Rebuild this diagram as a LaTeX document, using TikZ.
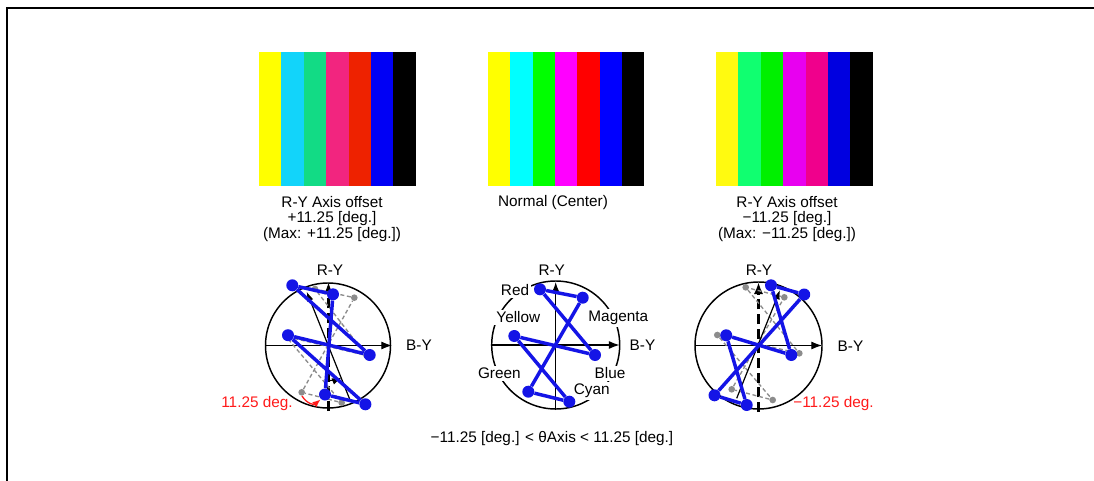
\documentclass[tikz,border=0pt]{standalone}
\usepackage{fontspec}
\setmainfont{Liberation Sans}
\usepackage{xcolor}
\usepackage{tikz}
\usetikzlibrary{arrows.meta}

\definecolor{lbarA}{HTML}{FFFF00}
\definecolor{lbarB}{HTML}{12D4FA}
\definecolor{lbarC}{HTML}{12DB85}
\definecolor{lbarD}{HTML}{F2257F}
\definecolor{lbarE}{HTML}{EE2200}
\definecolor{lbarF}{HTML}{0000F5}
\definecolor{mbarA}{HTML}{FFFF00}
\definecolor{mbarB}{HTML}{00FFFF}
\definecolor{mbarC}{HTML}{00FF00}
\definecolor{mbarD}{HTML}{FF00FF}
\definecolor{mbarE}{HTML}{FF0000}
\definecolor{mbarF}{HTML}{0000FF}
\definecolor{rbarA}{HTML}{FFFA10}
\definecolor{rbarB}{HTML}{10FF70}
\definecolor{rbarC}{HTML}{00F000}
\definecolor{rbarD}{HTML}{E800F0}
\definecolor{rbarE}{HTML}{F0008C}
\definecolor{rbarF}{HTML}{0000E0}
\definecolor{vecBlue}{HTML}{1414E6}
\definecolor{refGray}{HTML}{8C8C8C}
\definecolor{degRed}{HTML}{FF1A1A}

\begin{document}
\begin{tikzpicture}[x=0.75pt, y=-0.75pt,
  txt/.style={font=\fontsize{11.5}{11.5}\selectfont, inner sep=0pt, align=center},
  redtxt/.style={txt, text=degRed},
  cname/.style={txt, fill=white, inner sep=1.5pt},
  ring/.style={draw, line width=1.1pt},
  axis/.style={-{Latex[length=8pt, width=6pt]}, line width=0.9pt},
  ryaxis/.style={-{Latex[length=9pt, width=7pt]}, line width=2.2pt, dash pattern=on 7.5pt off 3.5pt},
  tilt/.style={-{Latex[length=7pt, width=5pt]}, line width=0.9pt},
  vec/.style={draw=vecBlue, line width=2.6pt},
  vdot/.style={circle, fill=vecBlue, inner sep=0pt, minimum size=9pt},
  ref/.style={draw=refGray, line width=1pt, dash pattern=on 3pt off 2pt},
  rdot/.style={circle, fill=refGray, inner sep=0pt, minimum size=5pt},
  redarr/.style={-{Latex[length=6pt, width=5pt]}, draw=degRed, line width=1pt}
]
  \fill[white] (0,0) rectangle (1094,481);
  \useasboundingbox (0,0) rectangle (1094,481);

  % Frame
  \draw[line width=1.5pt] (7,481) -- (7,8) -- (1094,8);

  % Colour bars
  \foreach \c [count=\i from 0] in {lbarA,lbarB,lbarC,lbarD,lbarE,lbarF,black}
    \fill[\c] (259+22.4*\i,52) rectangle +(22.7,134);
  \foreach \c [count=\i from 0] in {mbarA,mbarB,mbarC,mbarD,mbarE,mbarF,black}
    \fill[\c] (488+22.3*\i,52) rectangle +(22.6,134);
  \foreach \c [count=\i from 0] in {rbarA,rbarB,rbarC,rbarD,rbarE,rbarF,black}
    \fill[\c] (716+22.4*\i,52) rectangle +(22.7,134);

  % Captions
  \node[txt] (cap_l) at (332,219) {R-Y Axis offset\\+11.25 [deg.]\\(Max: +11.25 [deg.])};
  \node[txt] (cap_c) at (553,203) {Normal (Center)};
  \node[txt] (cap_r) at (787,219) {R-Y Axis offset\\−11.25 [deg.]\\(Max: −11.25 [deg.])};

  %% Left scope: +11.25
  \coordinate (lo) at (328,345.5);
  \draw[ring] (lo) circle[radius=62.5];
  \coordinate (l_w) at (265.5,345.5);
  \coordinate (l_e) at (392,345.5);
  \coordinate (l_s) at (328.5,411);
  \coordinate (l_n) at (328.5,282);
  \draw[axis] (l_w) -- (l_e);
  \draw[ryaxis] (l_s) -- (l_n);
  \node[txt] (l_ry) at (330,270.7) {R-Y};
  \node[txt] (l_by) at (419,345) {B-Y};

  % reference (normal) vectors
  \node[rdot] (lg_r) at (315,289) {};
  \node[rdot] (lg_m) at (354.3,297.7) {};
  \node[rdot] (lg_y) at (286,336.5) {};
  \node[rdot] (lg_b) at (366.5,355.5) {};
  \node[rdot] (lg_g) at (301.7,392.3) {};
  \node[rdot] (lg_c) at (341.7,402.7) {};
  \draw[ref] (lg_y) -- (lg_c) -- (lg_g) -- (lg_m) -- (lg_r) -- (lg_b) -- (lg_y);

  % rotated axis
  \coordinate (l_tb) at (350,400);
  \coordinate (l_tt) at (306.7,291.7);
  \draw[tilt] (l_tb) -- (l_tt);
  \draw[tilt] (lo) ++(90:35) arc[start angle=90, end angle=67.5, radius=35];

  % shifted vectors
  \node[vdot] (l_r) at (292.3,285.3) {};
  \node[vdot] (l_m) at (333,294.3) {};
  \node[vdot] (l_y) at (288,335.2) {};
  \node[vdot] (l_b) at (369.7,355) {};
  \node[vdot] (l_g) at (325,394.5) {};
  \node[vdot] (l_c) at (365.4,404.3) {};
  \draw[vec] (l_y) -- (l_c) -- (l_g) -- (l_m) -- (l_r) -- (l_b) -- (l_y);

  \coordinate (l_ga) at (302,396);
  \coordinate (l_gb) at (320.5,399.5);
  \draw[redarr] (l_ga) .. controls (307,404) and (314,405) .. (l_gb);
  \node[redtxt] (l_deg) at (257,404) {11.25 deg.};

  %% Centre scope: normal
  \coordinate (co) at (555.7,345);
  \draw[ring] (co) circle[radius=64];
  \node[cname] (c_nr) at (515,290) {Red};
  \node[cname] (c_ny) at (518.3,317.3) {Yellow};
  \node[cname] (c_nm) at (618.3,317.7) {Magenta};
  \node[cname] (c_ng) at (499.3,373.3) {Green};
  \node[cname] (c_nb) at (610,373.3) {Blue};
  \node[cname] (c_nc) at (591.7,391) {Cyan};
  \coordinate (c_w) at (491.7,345);
  \coordinate (c_e) at (619.5,345);
  \coordinate (c_s) at (555.7,410);
  \coordinate (c_n) at (555.7,282);
  \draw[axis] (c_w) -- (c_e);
  \draw[axis] (c_s) -- (c_n);
  \node[txt] (c_ry) at (551.7,270.7) {R-Y};
  \node[txt] (c_by) at (642.5,345) {B-Y};

  \node[vdot] (c_r) at (540,289.3) {};
  \node[vdot] (c_m) at (582.7,297.7) {};
  \node[vdot] (c_y) at (514.3,336) {};
  \node[vdot] (c_b) at (595,355) {};
  \node[vdot] (c_g) at (528.3,391.7) {};
  \node[vdot] (c_c) at (569.3,401.7) {};
  \draw[vec] (c_y) -- (c_c) -- (c_g) -- (c_m) -- (c_r) -- (c_b) -- (c_y);

  %% Right scope: -11.25
  \coordinate (ro) at (758.5,345.5);
  \draw[ring] (ro) circle[radius=63.5];
  \coordinate (r_w) at (695,345.5);
  \coordinate (r_e) at (822,345.5);
  \coordinate (r_s) at (758.5,412);
  \coordinate (r_n) at (758.5,282);
  \draw[axis] (r_w) -- (r_e);
  \draw[ryaxis] (r_s) -- (r_n);
  \node[txt] (r_ry) at (759,270) {R-Y};
  \node[txt] (r_by) at (850.5,346) {B-Y};

  % reference (normal) vectors
  \node[rdot] (rg_r) at (745.7,287.3) {};
  \node[rdot] (rg_m) at (784.3,297.3) {};
  \node[rdot] (rg_y) at (717.3,335) {};
  \node[rdot] (rg_b) at (799.3,353.3) {};
  \node[rdot] (rg_g) at (731.7,389.3) {};
  \node[rdot] (rg_c) at (772.7,400) {};
  \draw[ref] (rg_y) -- (rg_c) -- (rg_g) -- (rg_m) -- (rg_r) -- (rg_b) -- (rg_y);

  % rotated axis
  \coordinate (r_tb) at (736.7,398.3);
  \coordinate (r_tt) at (780,290);
  \draw[tilt] (r_tb) -- (r_tt);

  % shifted vectors
  \node[vdot] (r_r) at (771,285.3) {};
  \node[vdot] (r_m) at (804.2,294.5) {};
  \node[vdot] (r_y) at (726.2,335.3) {};
  \node[vdot] (r_b) at (791.3,355) {};
  \node[vdot] (r_g) at (714.5,395.3) {};
  \node[vdot] (r_c) at (746.7,405) {};
  \draw[vec] (r_y) -- (r_c) -- (r_g) -- (r_m) -- (r_r) -- (r_b) -- (r_y);

  \node[redtxt] (r_deg) at (833.5,404) {−11.25 deg.};

  % Range
  \node[txt] (range) at (552,439) {−11.25 [deg.] < θAxis < 11.25 [deg.]};

\end{tikzpicture}
\end{document}
